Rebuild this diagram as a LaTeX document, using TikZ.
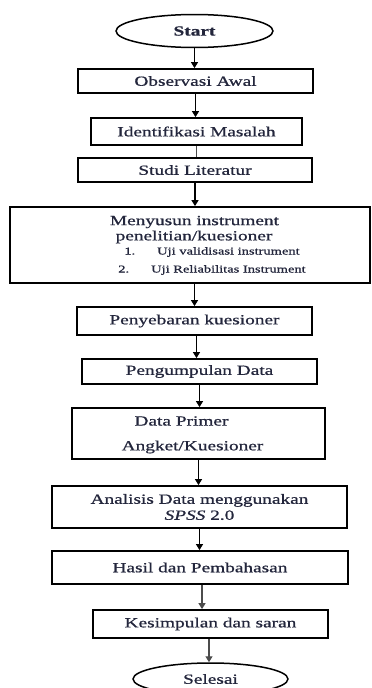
\documentclass[tikz,border=0pt]{standalone}
\usepackage{fontspec}
\setmainfont{Liberation Serif}[FakeStretch=1.38, FakeBold=0.8]
\usetikzlibrary{positioning,shapes,arrows.meta}
\definecolor{txtc}{RGB}{35,38,60}

\begin{document}
\begin{tikzpicture}[x=1pt, y=-1pt,
		box/.style={draw, line width=1.8pt, inner sep=0pt, text=txtc, align=center, font=\fontsize{14}{16}\selectfont},
		oval/.style={draw, ellipse, line width=1.5pt, inner sep=0pt, text=txtc, font=\fontsize{14}{16}\selectfont},
		lbl/.style={text=txtc, inner sep=0pt, font=\fontsize{14}{16}\selectfont},
		item/.style={text=txtc, inner sep=0pt, font=\fontsize{10.5}{12}\selectfont},
		arr/.style={line width=1.2pt, -{Triangle[length=6pt,width=7pt]}}]
	\useasboundingbox (0,0) rectangle (372,688);
	\node [oval, minimum width=157pt, minimum height=33pt] (start) at (194.5,31) {\textbf{Start}};
	\node [box, minimum width=235pt, minimum height=24pt] (obs) at (195.5,81) {Observasi Awal};
	\node [box, minimum width=211pt, minimum height=27pt] (ident) at (196.5,131.5) {Identifikasi Masalah};
	\node [box, minimum width=234pt, minimum height=24pt] (studi) at (195,170) {Studi Literatur};
	\node [box, minimum width=360pt, minimum height=76pt] (susun) at (190,245) {};
	\node [lbl] (susun1) at (194.5,222) {Menyusun instrument};
	\node [lbl] (susun2) at (194,237) {penelitian/kuesioner};
	\node [item] (uji1) at (212,252) {1.\hspace{22pt}Uji validisasi instrument};
	\node [item] (uji2) at (212,270) {2.\hspace{22pt}Uji Reliabilitas Instrument};
	\node [box, minimum width=235pt, minimum height=28pt] (sebar) at (194.5,321) {Penyebaran kuesioner};
	\node [box, minimum width=235pt, minimum height=25pt] (kumpul) at (199.5,371.5) {Pengumpulan Data};
	\node [box, minimum width=253pt, minimum height=51pt] (primer) at (198.5,433.5) {};
	\node [lbl] (primer1) at (181.5,421) {Data Primer};
	\node [lbl] (primer2) at (192.5,447) {Angket/Kuesioner};
	\node [box, minimum width=295pt, minimum height=42pt] (analisis) at (199.5,507) {Analisis Data menggunakan\\\textit{SPSS} 2.0};
	\node [box, minimum width=296pt, minimum height=33pt] (hasil) at (200,567.5) {Hasil dan Pembahasan};
	\node [box, minimum width=235pt, minimum height=28pt] (simpul) at (210.5,624) {Kesimpulan dan saran};
	\node [oval, minimum width=155pt, minimum height=32pt] (selesai) at (210.5,679) {Selesai};
	% connectors
	\foreach \a/\b in {start/obs, obs/ident, studi/susun, kumpul/primer, primer/analisis, analisis/hasil}
		\draw [arr] (\a.south) -- (\a.south |- \b.north);
	\draw [arr] (sebar.north |- susun.south) -- (sebar.north);
	\draw [arr] ([xshift=2pt]sebar.south) -- ([xshift=2pt]sebar.south |- kumpul.north);
	\draw [line width=1.2pt, gray!60!black] (ident.south) -- (ident.south |- studi.north);
	\draw [arr, gray!60!black] ([xshift=2pt]hasil.south) -- ([xshift=2pt]hasil.south |- simpul.north);
	\draw [arr, gray!60!black] ([xshift=-1.5pt]simpul.south) -- ([xshift=-1.5pt]simpul.south |- selesai.north);
\end{tikzpicture}
\end{document}
